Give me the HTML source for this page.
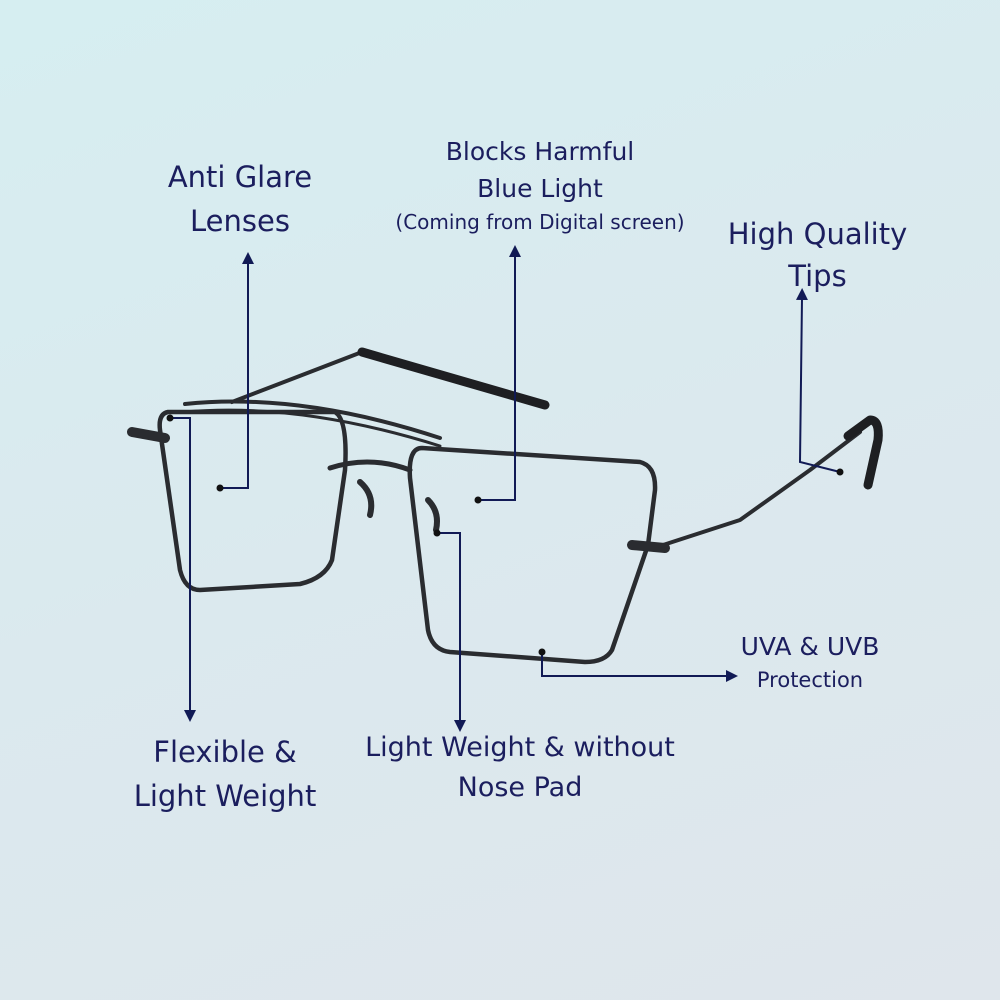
<!DOCTYPE html>
<html><head><meta charset="utf-8"><style>
html,body{margin:0;padding:0}
body{width:1000px;height:1000px;overflow:hidden;background:linear-gradient(160deg,#d6eef1 0%,#dbe9ee 50%,#dfe6ec 100%);font-family:"DejaVu Sans","Liberation Sans",sans-serif;position:relative}
.t{position:absolute;color:#1b1e5e;text-align:center;white-space:nowrap}
</style></head><body>
<svg width="1000" height="1000" style="position:absolute;left:0;top:0">
<defs><marker id="a" markerUnits="userSpaceOnUse" markerWidth="12" markerHeight="12" refX="2" refY="6" orient="auto"><path d="M0,0 L12,6 L0,12 z" fill="#111a55"/></marker></defs>
<g fill="none" stroke="#2a2c30" stroke-linecap="round" stroke-linejoin="round">
<path d="M232,402 L362,352" stroke-width="4"/>
<path d="M362,352 L545,405" stroke-width="9" stroke="#1e1f22"/>
<path d="M185,404 Q300,392 440,438" stroke-width="4"/>
<path d="M185,412 Q300,402 440,446" stroke-width="3"/>
<path d="M330,468 Q370,455 410,470" stroke-width="5"/>
<path d="M168,412 L335,412 Q348,420 345,470 L332,560 Q325,578 300,584 L200,590 Q185,590 180,570 L160,430 Q158,414 168,412 Z" stroke-width="4.5"/>
<path d="M422,448 L640,462 Q656,466 655,490 L648,545 L612,650 Q605,662 585,662 L450,652 Q432,650 428,630 L410,478 Q408,448 422,448 Z" stroke-width="4.5"/>
<path d="M132,432 L165,438" stroke-width="10"/>
<path d="M632,545 L665,548" stroke-width="10"/>
<path d="M660,546 L740,520 L810,470 L860,432" stroke-width="4"/>
<path d="M848,436 L870,420 Q880,420 878,440 L868,485" stroke-width="9" stroke="#1e1f22"/>
<path d="M360,482 Q375,495 370,515" stroke-width="6"/>
<path d="M428,500 Q440,512 436,530" stroke-width="6"/>
</g>
<g stroke="#111a55" stroke-width="2" fill="none">
<path d="M220,488 L248,488 L248,262" marker-end="url(#a)"/>
<path d="M478,500 L515,500 L515,255" marker-end="url(#a)"/>
<path d="M840,472 L800,462 L802,298" marker-end="url(#a)"/>
<path d="M170,418 L190,418 L190,712" marker-end="url(#a)"/>
<path d="M437,533 L460,533 L460,722" marker-end="url(#a)"/>
<path d="M542,652 L542,676 L728,676" marker-end="url(#a)"/>
</g>
<g fill="#111">
<circle cx="220" cy="488" r="3.5"/><circle cx="478" cy="500" r="3.5"/><circle cx="840" cy="472" r="3.5"/>
<circle cx="170" cy="418" r="3.5"/><circle cx="437" cy="533" r="3.5"/><circle cx="542" cy="652" r="3.5"/>
</g>
</svg>
<div class="t" style="left:140px;top:155px;width:200px;font-size:29px;line-height:44px">Anti Glare<br>Lenses</div>
<div class="t" style="left:395px;top:133px;width:290px;font-size:25px;line-height:37px">Blocks Harmful<br>Blue Light</div>
<div class="t" style="left:370px;top:210px;width:340px;font-size:20px">(Coming from Digital screen)</div>
<div class="t" style="left:710px;top:213px;width:215px;font-size:29px;line-height:42px">High Quality<br>Tips</div>
<div class="t" style="left:720px;top:632px;width:180px;font-size:25px">UVA &amp; UVB</div>
<div class="t" style="left:720px;top:668px;width:180px;font-size:21px">Protection</div>
<div class="t" style="left:110px;top:730px;width:230px;font-size:29px;line-height:44px">Flexible &amp;<br>Light Weight</div>
<div class="t" style="left:350px;top:728px;width:340px;font-size:27px;line-height:40px">Light Weight &amp; without<br>Nose Pad</div>
</body></html>
